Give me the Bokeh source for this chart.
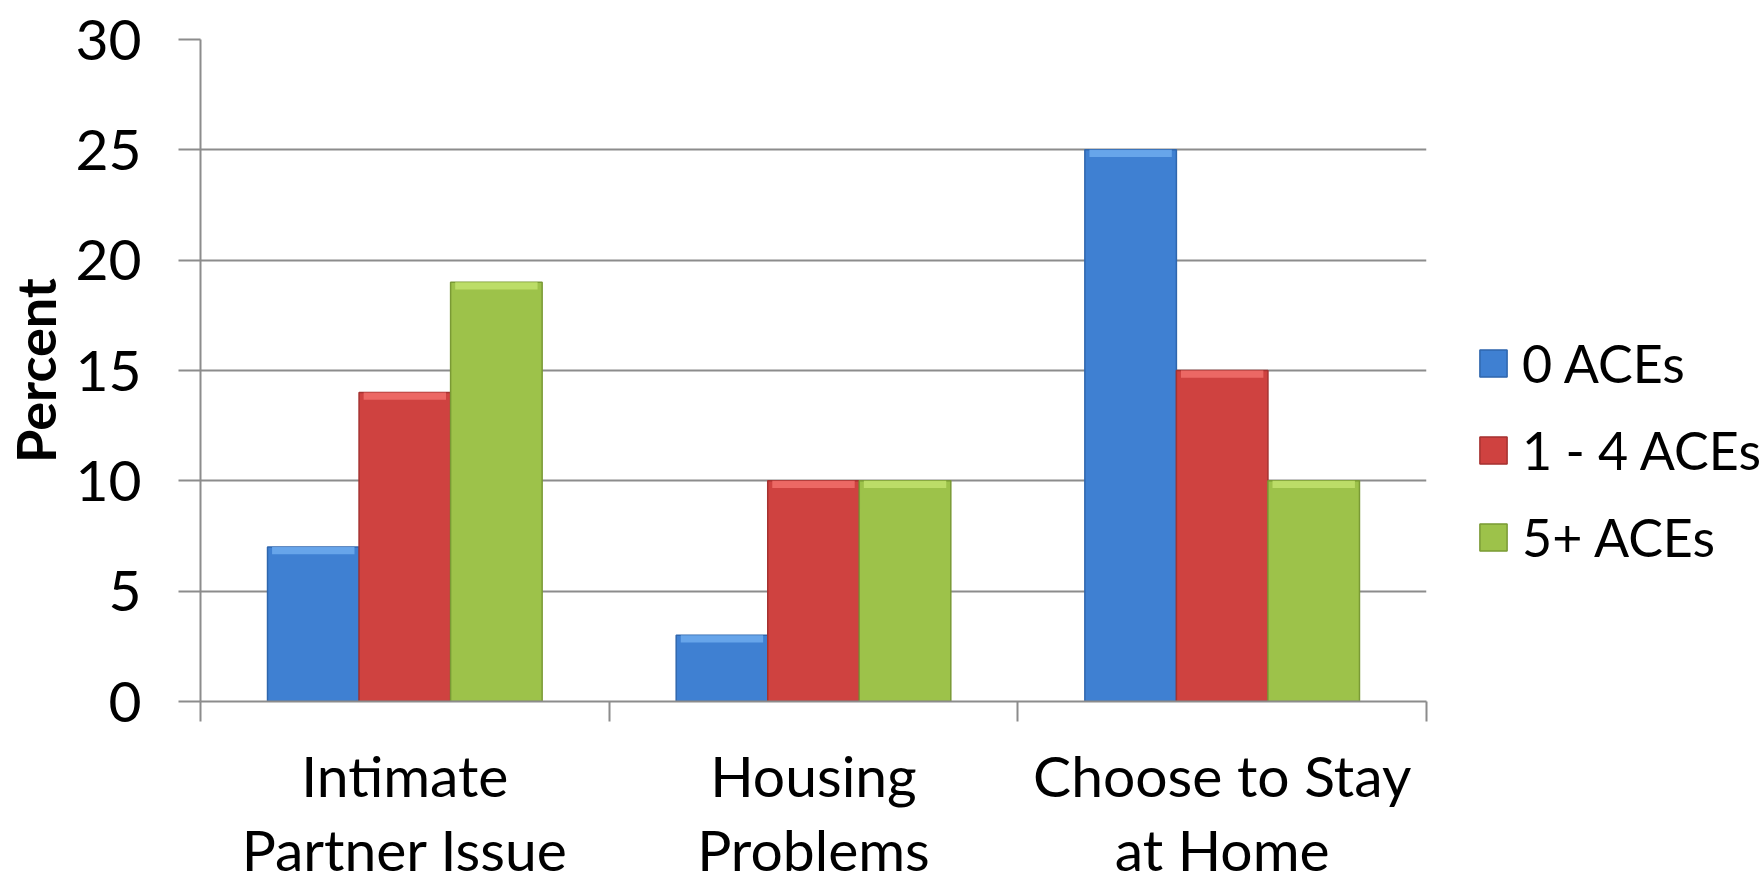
from bokeh.plotting import figure
from bokeh.models import (Range1d, FixedTicker, Legend, LegendItem, ColumnDataSource)
from bokeh.embed import file_html
from bokeh.resources import INLINE

categories = ["Intimate\nPartner Issue", "Housing\nProblems", "Choose to Stay\nat Home"]
series_names = ["0 ACEs", "1 - 4 ACEs", "5+ ACEs"]
aces_0 = [7, 3, 25]
aces_1_4 = [14, 10, 15]
aces_5_plus = [19, 10, 10]
y_ticks = [0, 5, 10, 15, 20, 25, 30]

series_values = [aces_0, aces_1_4, aces_5_plus]
body_colors = ["#3F80D2", "#CF4240", "#9DC24A"]
edge_colors = ["#2F66AD", "#A53230", "#7A9A35"]
top_colors = ["#6CA8EC", "#EE6D68", "#C0E06C"]

FONT = "Lato"
GRID = "#8C8C8C"
FS = "57px"

p = figure(frame_width=1226, frame_height=662, output_backend="svg",
           toolbar_location=None, x_range=Range1d(0, len(categories)),
           y_range=Range1d(0, 30), min_border_left=200, min_border_top=39,
           min_border_right=338, min_border_bottom=183)
p.outline_line_color = None
p.background_fill_color = "white"
p.border_fill_color = "white"

bar_w = 0.224
offsets = [-bar_w, 0.0, bar_w]
centers = [i + 0.5 for i in range(len(categories))]

renderers = []
for k, vals in enumerate(series_values):
    xs = [c + offsets[k] for c in centers]
    src = ColumnDataSource(dict(x=xs, top=vals,
                                hl=[v - 0.33 for v in vals]))
    r = p.vbar(x="x", top="top", bottom=0, width=bar_w, source=src,
               fill_color=body_colors[k], line_color=edge_colors[k], line_width=1.5)
    p.vbar(x="x", top="top", bottom="hl", width=bar_w * 0.9, source=src,
           fill_color=top_colors[k], line_color=None, fill_alpha=0.9)
    renderers.append(r)

# y axis
p.yaxis.ticker = FixedTicker(ticks=y_ticks)
p.yaxis.axis_line_color = GRID
p.yaxis.axis_line_width = 2
p.yaxis.major_tick_line_color = GRID
p.yaxis.major_tick_line_width = 2
p.yaxis.major_tick_out = 22
p.yaxis.major_tick_in = 0
p.yaxis.minor_tick_line_color = None
p.yaxis.major_label_text_font = FONT
p.yaxis.major_label_text_font_size = FS
p.yaxis.major_label_text_color = "black"
p.yaxis.major_label_standoff = 37
p.yaxis.axis_label = "Percent"
p.yaxis.axis_label_text_font = FONT
p.yaxis.axis_label_text_font_style = "bold"
p.yaxis.axis_label_text_font_size = "54px"
p.yaxis.axis_label_text_color = "black"
p.yaxis.axis_label_standoff = 4

# x axis
p.xaxis.ticker = FixedTicker(ticks=centers, minor_ticks=list(range(len(categories) + 1)))
p.xaxis.major_label_overrides = {c: lab for c, lab in zip(centers, categories)}
p.xaxis.axis_line_color = GRID
p.xaxis.axis_line_width = 2
p.xaxis.major_tick_line_color = None
p.xaxis.major_tick_out = 0
p.xaxis.major_tick_in = 0
p.xaxis.minor_tick_line_color = GRID
p.xaxis.minor_tick_line_width = 2
p.xaxis.minor_tick_out = 20
p.xaxis.minor_tick_in = 0
p.xaxis.major_label_text_font = FONT
p.xaxis.major_label_text_font_size = FS
p.xaxis.major_label_text_color = "black"
p.xaxis.major_label_text_line_height = 1.1
p.xaxis.major_label_standoff = 19

p.xgrid.grid_line_color = None
p.ygrid.grid_line_color = GRID
p.ygrid.grid_line_width = 2

legend = Legend(items=[LegendItem(label=n, renderers=[r]) for n, r in zip(series_names, renderers)],
                location=(50, 130), orientation="vertical")
legend.label_text_font = FONT
legend.label_text_font_size = "52px"
legend.label_text_color = "black"
legend.glyph_width = 34
legend.glyph_height = 34
legend.label_height = 68
legend.spacing = 19
legend.label_standoff = 12
legend.padding = 0
legend.margin = 0
legend.border_line_color = None
legend.background_fill_alpha = 0
p.add_layout(legend, "right")

open("out.html", "w").write(file_html(p, INLINE))
